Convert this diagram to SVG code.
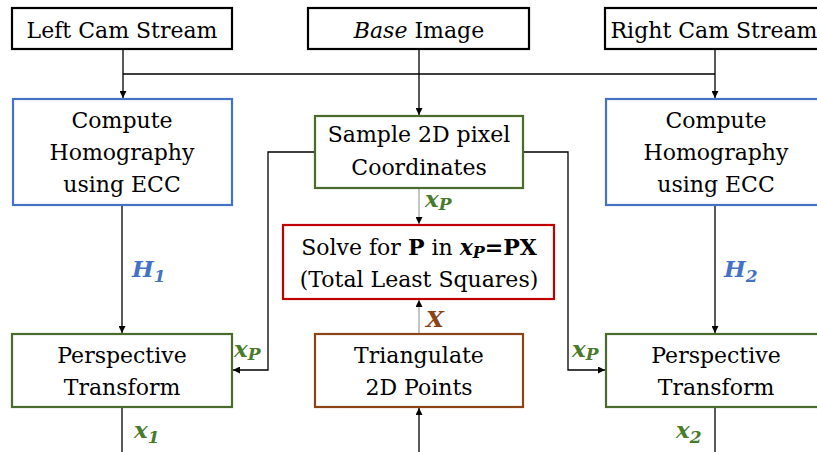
<svg xmlns="http://www.w3.org/2000/svg" width="817" height="452" viewBox="0 0 817 452">
<defs>
<marker id="ah" viewBox="0 0 10 10" refX="10" refY="5" markerWidth="7" markerHeight="7" markerUnits="userSpaceOnUse" orient="auto">
<path d="M0,0 L10,5 L0,10 z" fill="#000"/>
</marker>
<style>
.box{fill:#fff;stroke-width:2.2}
.blk{stroke:#000}
.blu{stroke:#4472C4}
.grn{stroke:#4A6B2C}
.red{stroke:#C00000}
.brn{stroke:#8A4416}
.t{font-family:"DejaVu Serif","Liberation Serif",serif;font-size:22px;fill:#000;text-anchor:middle}
.m{font-family:"DejaVu Serif","Liberation Serif",serif;font-weight:bold;font-style:italic;font-size:23px}
.sub{font-size:17px}
.ln{fill:none;stroke:#000;stroke-width:1.3}
.gr{fill:none;stroke:#A6A6A6;stroke-width:1.3}
</style>
</defs>
<g id="connectors">
<path class="ln" d="M123,49 V98" marker-end="url(#ah)"/>
<path class="ln" d="M123,74 H715" stroke-width="1"/>
<path class="ln" d="M715,49 V98" marker-end="url(#ah)"/>
<path class="ln" d="M419,49 V115" stroke-width="2" marker-end="url(#ah)"/>
<path class="ln" d="M122,205 V333" marker-end="url(#ah)"/>
<path class="ln" d="M715,205 V333" marker-end="url(#ah)"/>
<path class="ln" d="M315,152 H268 V370 H233" stroke-width="1.6" marker-end="url(#ah)"/>
<path class="ln" d="M523,152 H568 V370 H605" stroke-width="1.6" marker-end="url(#ah)"/>
<path class="gr" d="M419,188 V224" marker-end="url(#ah)"/>
<path class="gr" d="M419,334 V300" marker-end="url(#ah)"/>
<path class="ln" d="M419,452 V408" stroke-width="2.2" marker-end="url(#ah)"/>
<path class="ln" d="M122,407 V452"/>
<path class="ln" d="M715,407 V452"/>
<text class="m" x="425" y="207" fill="#4A7A2C">x<tspan class="sub" dy="3">P</tspan></text>
<text class="m" x="426" y="327" fill="#8A4416">X</text>
<text class="m" x="132" y="277" fill="#4472C4">H<tspan class="sub" dy="5">1</tspan></text>
<text class="m" x="724" y="277" fill="#4472C4">H<tspan class="sub" dy="5">2</tspan></text>
<text class="m" x="234" y="357" fill="#4A7A2C">x<tspan class="sub" dy="3">P</tspan></text>
<text class="m" x="572" y="357" fill="#4A7A2C">x<tspan class="sub" dy="3">P</tspan></text>
<text class="m" x="134" y="438" fill="#4A7A2C">x<tspan class="sub" dy="5">1</tspan></text>
<text class="m" x="676" y="438" fill="#4A7A2C">x<tspan class="sub" dy="5">2</tspan></text>
</g>
<g id="left-stream">
<rect class="box blk" x="12" y="8" width="220" height="41"/>
<text class="t" x="122" y="38">Left Cam Stream</text>
</g>
<g id="base-image">
<rect class="box blk" x="308" y="8" width="221" height="41"/>
<text class="t" x="419" y="38"><tspan font-style="italic">Base</tspan> Image</text>
</g>
<g id="right-stream">
<rect class="box blk" x="605" y="8" width="225" height="41"/>
<text class="t" x="714" y="38">Right Cam Stream</text>
</g>
<g id="left-homography">
<rect class="box blu" x="13" y="99" width="219" height="106"/>
<text class="t" x="122" y="128">Compute</text>
<text class="t" x="122" y="160">Homography</text>
<text class="t" x="122" y="192">using ECC</text>
</g>
<g id="right-homography">
<rect class="box blu" x="606" y="99" width="222" height="106"/>
<text class="t" x="716" y="128">Compute</text>
<text class="t" x="716" y="160">Homography</text>
<text class="t" x="716" y="192">using ECC</text>
</g>
<g id="sample">
<rect class="box grn" x="315" y="116" width="208" height="72"/>
<text class="t" x="419" y="142">Sample 2D pixel</text>
<text class="t" x="419" y="175">Coordinates</text>
</g>
<g id="solve">
<rect class="box red" x="283" y="225" width="271" height="74"/>
<text class="t" x="419" y="255">Solve for <tspan font-weight="bold">P</tspan> in <tspan font-weight="bold" font-style="italic">x<tspan font-size="16" dy="3">P</tspan></tspan><tspan font-weight="bold" dy="-3">=PX</tspan></text>
<text class="t" x="419" y="287">(Total Least Squares)</text>
</g>
<g id="triangulate">
<rect class="box brn" x="315" y="334" width="208" height="73"/>
<text class="t" x="419" y="363">Triangulate</text>
<text class="t" x="419" y="395">2D Points</text>
</g>
<g id="left-perspective">
<rect class="box grn" x="12" y="334" width="220" height="73"/>
<text class="t" x="122" y="363">Perspective</text>
<text class="t" x="122" y="395">Transform</text>
</g>
<g id="right-perspective">
<rect class="box grn" x="606" y="334" width="222" height="73"/>
<text class="t" x="716" y="363">Perspective</text>
<text class="t" x="716" y="395">Transform</text>
</g>
</svg>
